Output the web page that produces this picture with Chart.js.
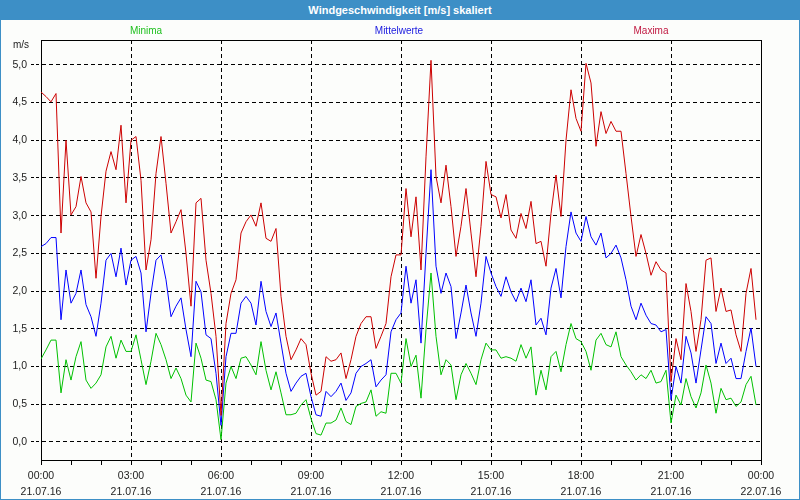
<!DOCTYPE html>
<html>
<head>
<meta charset="utf-8">
<script src="https://cdn.jsdelivr.net/npm/chart.js@4/dist/chart.umd.min.js"></script>
<style>
  body { margin: 0; background: #fff; }
  #wrap { position: relative; width: 800px; height: 500px; background: #fcfdfb; overflow: hidden;
          font-family: "Liberation Sans", "DejaVu Sans", sans-serif; }
  #chart { position: absolute; left: 0; top: 0; }
  #title { position: absolute; left: 0; top: 0; width: 800px; height: 20px; line-height: 20px;
           background: #3d8fc6; color: #fff; font-size: 11px; font-weight: bold; text-align: center; }
  .leg { position: absolute; top: 24px; line-height: 14px; font-size: 10px; transform: translateX(-50%); white-space: nowrap; }
  #unit { position: absolute; left: 13px; top: 39px; font-size: 10px; line-height: 12px; color: #222; }
  #frame { position: absolute; left: 0; top: 0; width: 800px; height: 500px; box-sizing: border-box;
           border: 1px solid #3d8fc6; pointer-events: none; }
</style>
</head>
<body>
<div id="wrap">
  <canvas id="chart" width="800" height="500"></canvas>
  <div id="title">Windgeschwindigkeit [m/s] skaliert</div>
  <span class="leg" style="left:146px;color:#20c020">Minima</span>
  <span class="leg" style="left:399px;color:#2020e0">Mittelwerte</span>
  <span class="leg" style="left:651px;color:#c01840">Maxima</span>
  <span id="unit">m/s</span>
  <div id="frame"></div>
</div>
<script>
// 10-minute values, 21.07.16 00:00 .. 23:50
const maxima = [
  4.64, 4.58, 4.51, 4.62, 2.77, 4.0, 3.01, 3.12, 3.52, 3.17, 3.05, 2.17,
  2.99, 3.59, 3.85, 3.61, 4.2, 3.17, 4.0, 4.05, 3.47, 2.28, 2.68, 3.56,
  4.05, 3.43, 2.77, 2.92, 3.08, 2.5, 1.8, 3.17, 3.23, 2.41, 1.97, 1.4,
  0.35, 1.57, 1.97, 2.15, 2.77, 2.92, 3.01, 2.86, 3.17, 2.7, 2.66, 2.83,
  1.93, 1.4, 1.09, 1.22, 1.37, 1.29, 0.91, 0.62, 0.67, 1.13, 1.07, 1.09,
  1.18, 0.84, 1.09, 1.4, 1.57, 1.66, 1.66, 1.24, 1.4, 1.57, 2.19, 2.48,
  2.48, 3.36, 2.72, 3.25, 2.28, 3.78, 5.06, 3.52, 3.17, 3.67, 3.12, 2.46,
  2.86, 3.36, 2.77, 2.19, 2.86, 3.72, 3.28, 3.25, 2.97, 3.28, 2.81, 2.7,
  3.03, 2.83, 3.19, 2.63, 2.66, 2.33, 3.03, 3.54, 2.99, 4.0, 4.67, 4.29,
  4.12, 5.02, 4.76, 3.92, 4.38, 4.09, 4.25, 4.12, 4.12, 3.56, 2.99, 2.46,
  2.75, 2.5, 2.21, 2.39, 2.28, 2.24, 0.8, 1.37, 1.09, 2.1, 1.73, 1.2,
  1.62, 2.41, 2.44, 1.73, 2.04, 1.73, 1.75, 1.42, 1.2, 1.97, 2.3, 1.62
];
const mittelwerte = [
  2.59, 2.63, 2.71, 2.71, 1.62, 2.28, 1.84, 1.97, 2.28, 1.82, 1.66, 1.4,
  1.84, 2.41, 2.5, 2.19, 2.57, 2.08, 2.41, 2.46, 2.24, 1.46, 1.97, 2.41,
  2.48, 2.15, 1.66, 1.8, 1.91, 1.49, 1.13, 2.13, 1.99, 1.42, 1.37, 0.91,
  0.22, 1.13, 1.44, 1.44, 1.84, 1.93, 1.84, 1.55, 2.13, 1.73, 1.53, 1.71,
  1.31, 0.91, 0.67, 0.78, 0.87, 0.91, 0.6, 0.36, 0.34, 0.67, 0.6, 0.67,
  0.78, 0.55, 0.65, 0.91, 1.0, 1.04, 1.09, 0.73, 0.82, 0.89, 1.46, 1.62,
  1.71, 2.33, 1.84, 2.15, 1.31, 2.5, 3.61, 2.33, 1.97, 2.24, 2.06, 1.37,
  1.71, 2.08, 1.71, 1.4, 1.84, 2.46, 2.24, 2.06, 1.93, 2.19, 1.99, 1.86,
  2.04, 1.86, 2.15, 1.55, 1.64, 1.42, 2.04, 2.3, 1.91, 2.59, 3.05, 2.77,
  2.66, 2.99, 2.72, 2.61, 2.77, 2.44, 2.5, 2.61, 2.44, 2.15, 1.8, 1.62,
  1.84, 1.68, 1.57, 1.55, 1.46, 1.49, 0.56, 1.0, 0.78, 1.4, 1.18, 0.78,
  1.22, 1.66, 1.57, 1.04, 1.31, 1.04, 1.11, 0.84, 0.84, 1.2, 1.51, 1.0
];
const minima = [
  1.1, 1.22, 1.35, 1.35, 0.65, 1.09, 0.82, 1.13, 1.33, 0.82, 0.71, 0.78,
  0.89, 1.26, 1.4, 1.11, 1.35, 1.2, 1.2, 1.42, 1.09, 0.76, 1.07, 1.44,
  1.29, 1.09, 0.84, 0.98, 0.84, 0.62, 0.53, 1.31, 1.11, 0.82, 0.8, 0.56,
  0.03, 0.78, 1.0, 0.84, 1.11, 1.13, 1.02, 0.89, 1.33, 0.95, 0.69, 0.93,
  0.65, 0.36, 0.36, 0.38, 0.49, 0.56, 0.31, 0.11, 0.09, 0.25, 0.25, 0.29,
  0.45, 0.27, 0.23, 0.47, 0.51, 0.53, 0.69, 0.34, 0.4, 0.38, 0.91, 0.91,
  0.78, 1.37, 1.0, 1.15, 0.58, 1.49, 2.24, 1.4, 0.89, 1.09, 1.02, 0.56,
  0.89, 1.04, 0.91, 0.76, 1.09, 1.31, 1.22, 1.22, 1.11, 1.13, 1.11, 1.07,
  1.29, 1.11, 1.26, 0.62, 0.95, 0.69, 1.13, 1.2, 0.93, 1.29, 1.57, 1.37,
  1.33, 1.2, 0.95, 1.35, 1.44, 1.29, 1.26, 1.46, 1.13, 1.02, 0.93, 0.82,
  0.89, 0.84, 0.95, 0.78, 0.8, 0.95, 0.25, 0.62, 0.49, 0.84, 0.6, 0.45,
  0.65, 1.02, 0.78, 0.38, 0.71, 0.56, 0.58, 0.47, 0.53, 0.76, 0.87, 0.49
];
const tickTimes = ['00:00', '03:00', '06:00', '09:00', '12:00', '15:00', '18:00', '21:00', '00:00'];
const tickDates = ['21.07.16', '21.07.16', '21.07.16', '21.07.16', '21.07.16', '21.07.16', '21.07.16', '21.07.16', '22.07.16'];

const toPoints = (arr) => arr.map((v, i) => ({ x: i, y: v }));

// closes the plot box on top and right
const framePlugin = {
  id: 'frame',
  afterDraw(chart) {
    const { ctx, chartArea: a } = chart;
    ctx.save();
    ctx.strokeStyle = '#000';
    ctx.lineWidth = 1;
    ctx.beginPath();
    ctx.moveTo(Math.round(a.left), Math.round(a.top) + 0.5);
    ctx.lineTo(Math.round(a.right) + 1, Math.round(a.top) + 0.5);
    ctx.moveTo(Math.round(a.right) + 0.5, Math.round(a.top));
    ctx.lineTo(Math.round(a.right) + 0.5, Math.round(a.bottom));
    ctx.stroke();
    ctx.restore();
  }
};

const tickFont = { family: 'Liberation Sans', size: 10.5 };

new Chart(document.getElementById('chart'), {
  type: 'line',
  data: {
    datasets: [
      { label: 'Minima', data: toPoints(minima), borderColor: '#00c000', order: 3 },
      { label: 'Mittelwerte', data: toPoints(mittelwerte), borderColor: '#0000ff', order: 2 },
      { label: 'Maxima', data: toPoints(maxima), borderColor: '#cc0000', order: 1 },
    ],
  },
  options: {
    responsive: false,
    animation: false,
    devicePixelRatio: 1,
    layout: { padding: { left: 0, top: 40, right: 39, bottom: 0 } },
    elements: { line: { borderWidth: 1, tension: 0 }, point: { radius: 0 } },
    plugins: { legend: { display: false }, tooltip: { enabled: false } },
    scales: {
      x: {
        type: 'linear',
        min: 0,
        max: 144,
        afterFit: (s) => { s.height = 40; },
        border: { color: '#000', width: 1, dash: [4, 3] },
        grid: {
          color: (c) => (c.tick && c.tick.value % 18 === 0 ? '#000' : 'rgba(0,0,0,0)'),
          tickColor: '#000',
          tickLength: 5,
          lineWidth: 1,
        },
        ticks: {
          stepSize: 6,
          autoSkip: false,
          maxRotation: 0,
          padding: 3,
          color: '#222',
          font: { ...tickFont, lineHeight: 1.5 },
          callback: (v) => (v % 18 === 0 ? [tickTimes[v / 18], tickDates[v / 18]] : ''),
        },
      },
      y: {
        min: -0.24,
        max: 5.33,
        afterFit: (s) => { s.width = 41; },
        border: { color: '#000', width: 1, dash: [4, 3] },
        grid: {
          color: '#000',
          tickColor: '#000',
          tickLength: 10,
          tickBorderDash: [3, 2],
          lineWidth: 1,
        },
        ticks: {
          stepSize: 0.5,
          includeBounds: false,
          padding: 4,
          color: '#222',
          font: tickFont,
          callback: (v) => v.toFixed(1).replace('.', ','),
        },
      },
    },
  },
  plugins: [framePlugin],
});
</script>
</body>
</html>
